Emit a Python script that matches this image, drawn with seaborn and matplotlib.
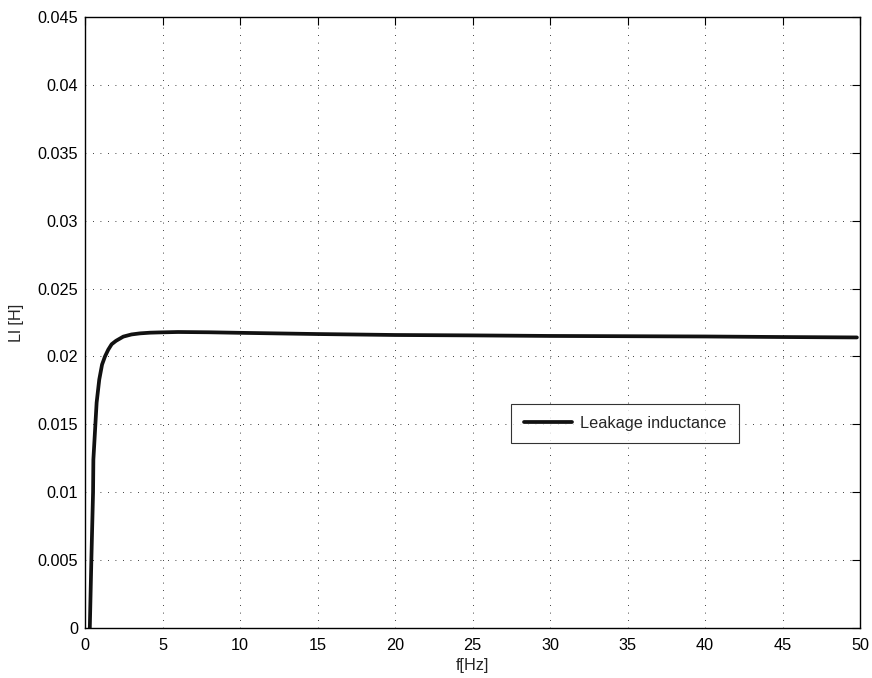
import matplotlib
matplotlib.use("Agg")
import matplotlib.pyplot as plt
import seaborn as sns
import pandas as pd

freq_hz = [0.30, 0.41, 0.52, 0.54, 0.67, 0.75, 0.92, 1.10, 1.29, 1.50, 1.72, 2.00, 2.47,
           3.00, 3.55, 4.20, 4.80, 6.0, 8.0, 10.0, 15.0, 20.0, 25.0, 30.0, 35.0, 40.0,
           45.0, 49.8]
leakage_h = [-0.0005, 0.0050, 0.0100, 0.0124, 0.0150, 0.0166, 0.0183, 0.0194, 0.0200,
             0.0205, 0.0209, 0.02115, 0.02146, 0.02162, 0.02170, 0.02175, 0.02177,
             0.02180, 0.02178, 0.02174, 0.02165, 0.02158, 0.02155, 0.02151, 0.02149,
             0.02147, 0.02143, 0.02140]
series_label = "Leakage inductance"
x_ticks = [0, 5, 10, 15, 20, 25, 30, 35, 40, 45, 50]
y_ticks = [0, 0.005, 0.01, 0.015, 0.02, 0.025, 0.03, 0.035, 0.04, 0.045]
y_tick_labels = ["0", "0.005", "0.01", "0.015", "0.02", "0.025", "0.03", "0.035", "0.04", "0.045"]

df = pd.DataFrame({"f": freq_hz, "L": leakage_h, "series": series_label})

sns.set_style("white")
plt.rcParams["font.family"] = ["Liberation Sans", "DejaVu Sans"]
plt.rcParams["font.size"] = 11.7

fig = plt.figure(figsize=(8.72, 6.78), dpi=100)
ax = fig.add_axes([85/872, 1-628/678, (860-85)/872, (628-17)/678])

sns.lineplot(data=df, x="f", y="L", hue="series", palette=["#111111"],
             linewidth=2.7, ax=ax, sort=False)

ax.set_xlim(0, 50)
ax.set_ylim(0, 0.045)
ax.set_xticks(x_ticks)
ax.set_yticks(y_ticks)
ax.set_yticklabels(y_tick_labels)
ax.set_xlabel("f[Hz]", fontsize=11.7, labelpad=4)
ax.set_ylabel("Ll [H]", fontsize=11.7, labelpad=10)
ax.grid(True, linestyle=(0, (1, 8)), color="black", linewidth=0.6)
ax.tick_params(direction="in", length=6, width=0.8, top=True, right=True,
               labelsize=11.7, colors="black")
ax.tick_params(axis="x", pad=7)
ax.tick_params(axis="y", pad=5)
for s in ax.spines.values():
    s.set_color("black")
    s.set_linewidth(1.0)

leg = ax.legend(loc="center", bbox_to_anchor=(0.697, 0.335), fontsize=11.7,
                frameon=True, fancybox=False, handlelength=3.0, handletextpad=0.5,
                borderpad=0.75)
leg.get_frame().set_edgecolor("black")
leg.get_frame().set_linewidth(0.8)

fig.savefig("out.png", dpi=100)
